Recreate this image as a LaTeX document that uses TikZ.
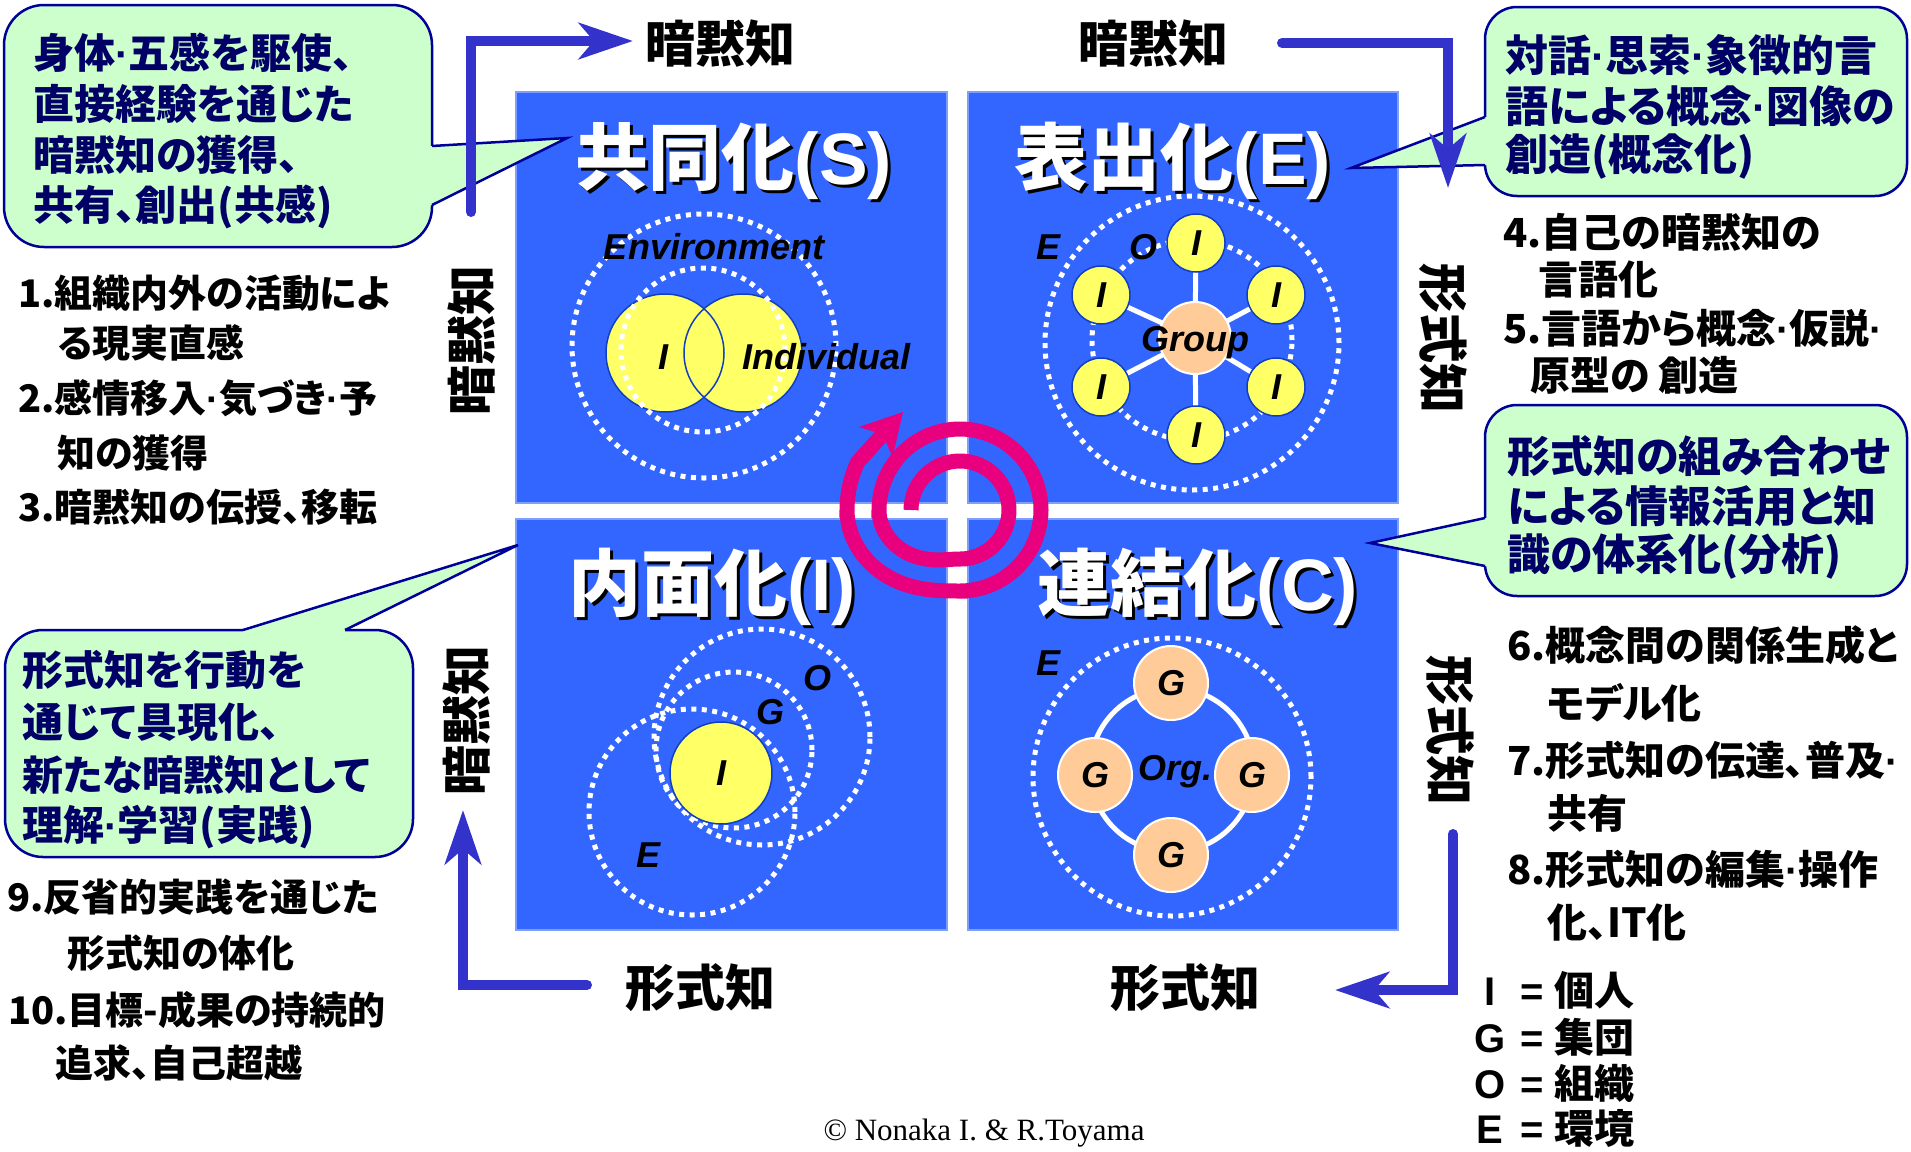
\documentclass[tikz,border=0pt]{standalone}
\usepackage{fontspec}
\setmainfont{Liberation Sans}
\newfontfamily\jp{Noto Sans CJK JP}[RawFeature=+palt]
\newfontfamily\copyfont{Liberation Serif}
\usetikzlibrary{arrows.meta}
\definecolor{qblue}{HTML}{3366FF}
\definecolor{qedge}{HTML}{7F9FFF}
\definecolor{flowblue}{HTML}{3333CC}
\definecolor{bfill}{HTML}{CCFFCC}
\definecolor{bline}{HTML}{000099}
\definecolor{navy}{HTML}{000066}
\definecolor{ylw}{HTML}{FFFF66}
\definecolor{peach}{HTML}{FFCC99}
\definecolor{mag}{HTML}{E8007F}
\definecolor{cedge}{HTML}{1040C0}
\newcommand\md{{\rmfamily\bfseries ·}}
\tikzset{
  quad/.style={fill=qblue, draw=qedge, line width=1.5pt},
  dotring/.style={circle, draw=white, line width=5pt, dash pattern=on 5pt off 5.5pt, inner sep=0pt, minimum size=#1},
  bubble/.style={fill=bfill, draw=bline, line width=2.5pt, rounded corners=#1},
  wedge/.style={fill=bfill},
  wedgeline/.style={draw=bline, line width=2.5pt, line join=miter},
  btext/.style={anchor=west, inner sep=0pt, text=navy, font=\jp\bfseries\fontsize{41}{41}\selectfont},
  btextw/.style={anchor=west, inner sep=0pt, text=navy, font=\jp\bfseries\fontsize{43}{43}\selectfont},
  ltext/.style={anchor=west, inner sep=0pt, text=black, font=\jp\bfseries\fontsize{40}{40}\selectfont},
  ltexts/.style={anchor=west, inner sep=0pt, text=black, font=\jp\bfseries\fontsize{38}{38}\selectfont},
  axislbl/.style={inner sep=0pt, text=black, font=\jp\bfseries\fontsize{50}{50}\selectfont},
  ttl/.style={inner sep=0pt, font=\bfseries\fontsize{73}{73}\selectfont},
  lbl/.style={inner sep=0pt, text=black, font=\bfseries\itshape\fontsize{36}{36}\selectfont},
  yfill/.style={circle, fill=ylw, inner sep=0pt, minimum size=#1},
  yline/.style={circle, draw=cedge, line width=1.5pt, inner sep=0pt, minimum size=#1},
  ycirc/.style={circle, fill=ylw, draw=cedge, line width=1.5pt, inner sep=0pt, minimum size=#1, font=\bfseries\itshape\fontsize{36}{36}\selectfont},
  pcirc/.style={circle, fill=peach, draw=white, line width=2pt, inner sep=0pt, minimum size=#1, font=\bfseries\itshape\fontsize{36}{36}\selectfont},
  flow/.style={draw=flowblue, line width=10pt, line cap=round, -{Stealth[length=54pt,width=36pt,inset=15pt]}},
  spoke/.style={draw=white, line width=5pt},
  legendrow/.style={anchor=west, inner sep=0pt, text=black, font=\bfseries\fontsize{40}{40}\selectfont},
  spiralline/.style={draw=mag, line width=15pt, -{Stealth[length=40pt,width=44pt,inset=10pt]}},
}
\begin{document}
\begin{tikzpicture}[x=1pt, y=-1pt]
\fill[white] (0,0) rectangle (1911,1151);
\path[use as bounding box] (0,0) rectangle (1911,1151);

% ---------- quadrants
\draw[quad] (516,92) rectangle (947,503);
\draw[quad] (968,92) rectangle (1398,503);
\draw[quad] (516,519) rectangle (947,930);
\draw[quad] (968,519) rectangle (1398,930);

% ---------- Socialization diagram
\node[yfill=118pt] (ylf) at (665,353) {};
\node[yfill=118pt] (yrf) at (743,353) {};
\node[yline=118pt] (yl) at (665,353) {};
\node[yline=118pt] (yr) at (743,353) {};
\node[dotring=264pt] (envS) at (704,346) {};
\node[dotring=164pt] (orgS) at (703,350) {};
\node[lbl] (envSl) at (714,247) {Environment};
\node[lbl] (iSl) at (663,357) {I};
\node[lbl] (indSl) at (826,357) {Individual};

% ---------- Externalization diagram
\node[dotring=294pt] (envE) at (1192,343) {};
\node[dotring=200pt] (orgE) at (1192,340) {};
\coordinate (gc) at (1195,338);
\coordinate (h1) at (1196,243);
\coordinate (h2) at (1276,295);
\coordinate (h3) at (1276,387);
\coordinate (h4) at (1196,435);
\coordinate (h5) at (1101,387);
\coordinate (h6) at (1101,295);
\foreach \k in {1,...,6} \draw[spoke] (gc) -- (h\k);
\node[ycirc=58pt] (i1) at (h1) {I};
\node[ycirc=58pt] (i2) at (h2) {I};
\node[ycirc=58pt] (i3) at (h3) {I};
\node[ycirc=58pt] (i4) at (h4) {I};
\node[ycirc=58pt] (i5) at (h5) {I};
\node[ycirc=58pt] (i6) at (h6) {I};
\node[pcirc=72pt] (grp) at (gc) {};
\node[lbl] (grpl) at (1195,343) {Group};
\node[lbl] (envEl) at (1048,247) {E};
\node[lbl] (orgEl) at (1143,247) {O};

% ---------- Internalization diagram
\node[dotring=206pt] (envI) at (692,812) {};
\node[dotring=156pt] (grpI) at (734,750) {};
\node[dotring=216pt] (orgI) at (762,737) {};
\node[ycirc=102pt] (indI) at (721,773) {I};
\node[lbl] (orgIl) at (817,678) {O};
\node[lbl] (grpIl) at (770,712) {G};
\node[lbl] (envIl) at (648,855) {E};

% ---------- Combination diagram
\node[dotring=278pt] (envC) at (1172,777) {};
\node[circle, draw=white, line width=5pt, minimum size=164pt, inner sep=0pt] (orgC) at (1172,770) {};
\node[pcirc=74pt] (g1) at (1171,683) {G};
\node[pcirc=74pt] (g2) at (1095,775) {G};
\node[pcirc=74pt] (g3) at (1252,775) {G};
\node[pcirc=74pt] (g4) at (1171,855) {G};
\node[lbl] (orgCl) at (1175,772) {Org.};
\node[lbl] (envCl) at (1048,663) {E};

% ---------- titles (shadow + white)
\node[ttl, text=black] (tS0) at (737,164) {{\jp 共同化}(S)};
\node[ttl, text=white] (tS) at (734,161) {{\jp 共同化}(S)};
\node[ttl, text=black] (tE0) at (1176,164) {{\jp 表出化}(E)};
\node[ttl, text=white] (tE) at (1173,161) {{\jp 表出化}(E)};
\node[ttl, text=black] (tI0) at (715,590) {{\jp 内面化}(I)};
\node[ttl, text=white] (tI) at (712,587) {{\jp 内面化}(I)};
\node[ttl, text=black] (tC0) at (1201,590) {{\jp 連結化}(C)};
\node[ttl, text=white] (tC) at (1198,587) {{\jp 連結化}(C)};

% ---------- callouts
\draw[bubble=40pt] (4,5) rectangle (432,247);
\fill[wedge] (427,146) -- (432,146) -- (567,138) -- (432,205) -- (427,205) -- cycle;
\draw[wedgeline] (432,146) -- (567,138) -- (432,205);
\node[btext] (tl1) at (33,53) {身体\md 五感を駆使、};
\node[btext] (tl2) at (33,104) {直接経験を通じた};
\node[btext] (tl3) at (33,155) {暗黙知の獲得、};
\node[btext] (tl4) at (33,207) {共有、創出(共感)};

\draw[bubble=32pt] (1485,7) rectangle (1907,196);
\fill[wedge] (1490,117) -- (1485,117) -- (1351,168) -- (1485,165) -- (1490,165) -- cycle;
\draw[wedgeline] (1485,117) -- (1351,168) -- (1485,165);
\node[btextw] (tr1) at (1505,55) {対話\md 思索\md 象徴的言};
\node[btextw] (tr2) at (1505,106) {語による概念\md 図像の};
\node[btextw] (tr3) at (1505,157) {創造(概念化)};

\draw[bubble=32pt] (1485,405) rectangle (1907,596);
\fill[wedge] (1490,518) -- (1485,518) -- (1370,543) -- (1485,566) -- (1490,566) -- cycle;
\draw[wedgeline] (1485,518) -- (1370,543) -- (1485,566);
\node[btextw] (br1) at (1507,456) {形式知の組み合わせ};
\node[btextw] (br2) at (1507,506) {による情報活用と知};
\node[btextw] (br3) at (1507,557) {識の体系化(分析)};

\draw[bubble=38pt] (5,630) rectangle (413,857);
\fill[wedge] (243,635) -- (243,630) -- (518,545) -- (345,630) -- (345,635) -- cycle;
\draw[wedgeline] (243,630) -- (518,545) -- (345,630);
\node[btext] (bl1) at (22,670) {形式知を行動を};
\node[btext] (bl2) at (22,722) {通じて具現化、};
\node[btext] (bl3) at (22,775) {新たな暗黙知として};
\node[btext] (bl4) at (22,827) {理解\md 学習(実践)};

% ---------- lists
\node[ltexts] (s1) at (18,293) {1.組織内外の活動によ};
\node[ltexts] (s1b) at (57,343) {る現実直感};
\node[ltexts] (s2) at (18,398) {2.感情移入\md 気づき\md 予};
\node[ltexts] (s2b) at (57,453) {知の獲得};
\node[ltexts] (s3) at (18,507) {3.暗黙知の伝授、移転};

\node[ltext] (e4) at (1503,232) {4.自己の暗黙知の};
\node[ltext] (e4b) at (1538,280) {言語化};
\node[ltext] (e5) at (1503,328) {5.言語から概念\md 仮説\md};
\node[ltext] (e5b) at (1530,375) {原型の 創造};

\node[ltext] (c6) at (1507,645) {6.概念間の関係生成と};
\node[ltext] (c6b) at (1547,703) {モデル化};
\node[ltext] (c7) at (1507,760) {7.形式知の伝達、普及\md};
\node[ltext] (c7b) at (1547,813) {共有};
\node[ltext] (c8) at (1507,869) {8.形式知の編集\md 操作};
\node[ltext] (c8b) at (1547,922) {化、IT化};

\node[ltexts] (n9) at (7,897) {9.反省的実践を通じた};
\node[ltexts] (n9b) at (67,953) {形式知の体化};
\node[ltexts] (n10) at (8,1010) {10.目標-成果の持続的};
\node[ltexts] (n10b) at (55,1063) {追求、自己超越};

% ---------- axis labels
\node[axislbl] (tacT1) at (720,44) {暗黙知};
\node[axislbl] (tacT2) at (1153,44) {暗黙知};
\node[axislbl] (expB1) at (700,988) {形式知};
\node[axislbl] (expB2) at (1185,988) {形式知};
\node[axislbl, rotate=90] (tacL1) at (472,340) {暗黙知};
\node[axislbl, rotate=90] (tacL2) at (467,720) {暗黙知};
\node[axislbl, rotate=-90] (expR1) at (1443,338) {形式知};
\node[axislbl, rotate=-90] (expR2) at (1450,730) {形式知};

% ---------- flow arrows
\coordinate (a1s) at (471,212); \coordinate (a1m) at (471,41); \coordinate (a1e) at (633,41);
\draw[flow] (a1s) -- (a1m) -- (a1e);
\coordinate (a2s) at (1282,43); \coordinate (a2m) at (1448,43); \coordinate (a2e) at (1448,188);
\draw[flow] (a2s) -- (a2m) -- (a2e);
\coordinate (a3s) at (1453,834); \coordinate (a3m) at (1453,990); \coordinate (a3e) at (1335,990);
\draw[flow] (a3s) -- (a3m) -- (a3e);
\coordinate (a4s) at (587,985); \coordinate (a4m) at (463,985); \coordinate (a4e) at (463,810);
\draw[flow] (a4s) -- (a4m) -- (a4e);

% ---------- legend
\node[legendrow] (lgI) at (1471,990) {\makebox[38pt]{I} = {\jp 個人}};
\node[legendrow] (lgG) at (1471,1037) {\makebox[38pt]{G} = {\jp 集団}};
\node[legendrow] (lgO) at (1471,1083) {\makebox[38pt]{O} = {\jp 組織}};
\node[legendrow] (lgE) at (1471,1128) {\makebox[38pt]{E} = {\jp 環境}};

% ---------- spiral (centre 960,510; radii 49 -> 81 -> 113, clockwise outward)
\coordinate (spc) at (960,510);
\coordinate (sptip) at (903,412);
\draw[spiralline]
  plot[domain=180:450, samples=60] ({960+49*cos(\x)},{510+49*sin(\x)})
  -- plot[domain=450:540, samples=30] ({960+(49+32*((\x-450)/90)*((\x-450)/90)*(3-2*((\x-450)/90)))*cos(\x)},{510+(49+32*((\x-450)/90)*((\x-450)/90)*(3-2*((\x-450)/90)))*sin(\x)})
  -- plot[domain=540:810, samples=70] ({960+81*cos(\x)},{510+81*sin(\x)})
  -- plot[domain=810:900, samples=30] ({960+(81+32*((\x-810)/90)*((\x-810)/90)*(3-2*((\x-810)/90)))*cos(\x)},{510+(81+32*((\x-810)/90)*((\x-810)/90)*(3-2*((\x-810)/90)))*sin(\x)})
  -- plot[domain=900:925, samples=8] ({960+113*cos(\x)},{510+113*sin(\x)})
  -- (sptip);

% ---------- copyright
\node[inner sep=0pt, font=\copyfont\fontsize{31}{31}\selectfont] (copy) at (984,1133) {© Nonaka I. \& R.Toyama};
\end{tikzpicture}
\end{document}
